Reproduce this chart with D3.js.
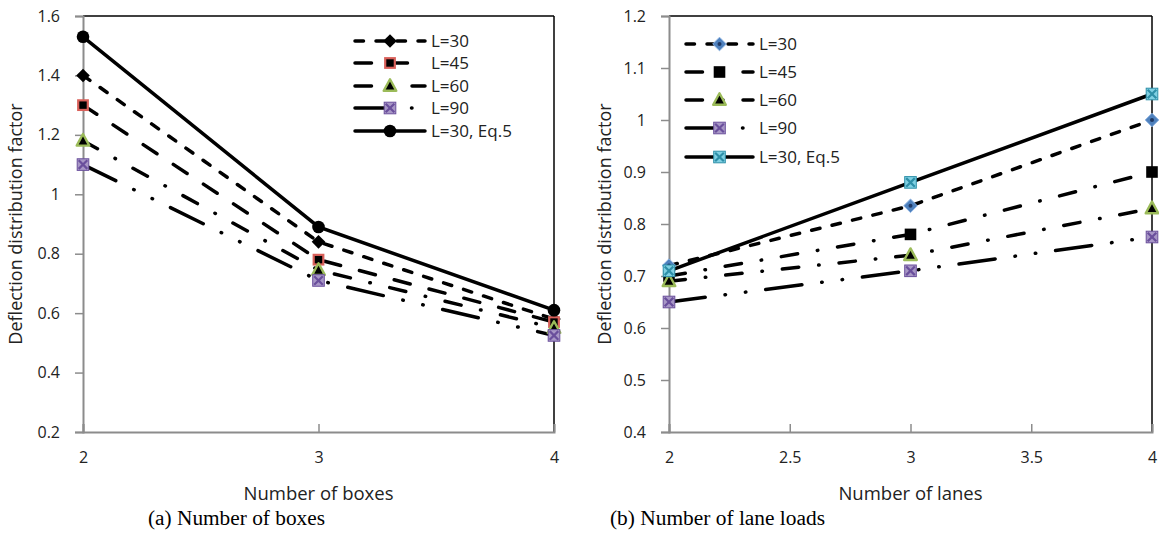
<!DOCTYPE html>
<html><head><meta charset="utf-8">
<script src="https://cdn.jsdelivr.net/npm/d3@7"></script>
<style>body{margin:0;background:#fff}svg{display:block}</style>
</head><body>
<svg id="c" width="1159" height="533"></svg>
<script>
// ---- data ----
const boxes = [2, 3, 4];
const boxTicks = [2, 3, 4];
const boxYTicks = [0.2, 0.4, 0.6, 0.8, 1.0, 1.2, 1.4, 1.6];
const boxL30 = [1.40, 0.84, 0.58];
const boxL45 = [1.30, 0.78, 0.57];
const boxL60 = [1.18, 0.745, 0.55];
const boxL90 = [1.10, 0.71, 0.525];
const boxEq5 = [1.53, 0.89, 0.61];

const lanes = [2, 3, 4];
const laneTicks = [2, 2.5, 3, 3.5, 4];
const laneYTicks = [0.4, 0.5, 0.6, 0.7, 0.8, 0.9, 1.0, 1.1, 1.2];
const laneL30 = [0.72, 0.835, 1.00];
const laneL45 = [0.70, 0.78, 0.90];
const laneL60 = [0.69, 0.74, 0.83];
const laneL90 = [0.65, 0.71, 0.775];
const laneEq5 = [0.71, 0.88, 1.05];

const seriesNames = ["L=30", "L=45", "L=60", "L=90", "L=30, Eq.5"];

const svg = d3.select("#c");
const LW = 3.5;
const FONT = "Open Sans, sans-serif";
const dashes = {
  dash: "8.5,12.5",
  long: "16.5,19.5",
  ldd: "16.5,20,0.5,20",
  lddd: "36.5,20,0.5,20,0.5,20",
  solid: null
};

function marker(g, type, x, y) {
  const s = 5.8;
  if (type === "diamondBlack") {
    g.append("path").attr("d", `M${x},${y-s-1}L${x+s+1},${y}L${x},${y+s+1}L${x-s-1},${y}Z`).attr("fill", "#000");
  } else if (type === "diamondBlue") {
    g.append("path").attr("d", `M${x},${y-s-1}L${x+s+1},${y}L${x},${y+s+1}L${x-s-1},${y}Z`).attr("fill", "#4f81bd").attr("stroke", "#8db3e2").attr("stroke-width", 1);
    g.append("circle").attr("cx", x).attr("cy", y).attr("r", 2).attr("fill", "#1f3864");
  } else if (type === "squareRed") {
    g.append("rect").attr("x", x-s+1).attr("y", y-s+1).attr("width", 2*s-2).attr("height", 2*s-2).attr("fill", "#000").attr("stroke", "#d9605a").attr("stroke-width", 2.2);
  } else if (type === "squareBlack") {
    g.append("rect").attr("x", x-s).attr("y", y-s).attr("width", 2*s).attr("height", 2*s).attr("fill", "#000");
  } else if (type === "triGreen") {
    g.append("path").attr("d", `M${x},${y-s-1}L${x+s+0.5},${y+s-1}L${x-s-0.5},${y+s-1}Z`).attr("fill", "#000").attr("stroke", "#9bbb59").attr("stroke-width", 2.4).attr("stroke-linejoin", "round");
  } else if (type === "xPurple" || type === "xCyan") {
    const bg = type === "xPurple" ? "#a897c6" : "#7fd0e3";
    const fg = type === "xPurple" ? "#6a4f9c" : "#2e8fa8";
    g.append("rect").attr("x", x-s).attr("y", y-s).attr("width", 2*s).attr("height", 2*s).attr("fill", bg).attr("stroke", fg).attr("stroke-width", 1);
    g.append("path").attr("d", `M${x-s+1.5},${y-s+1.5}L${x+s-1.5},${y+s-1.5}M${x+s-1.5},${y-s+1.5}L${x-s+1.5},${y+s-1.5}`).attr("stroke", fg).attr("stroke-width", 2.2);
  } else if (type === "circleBlack") {
    g.append("circle").attr("cx", x).attr("cy", y).attr("r", 6.3).attr("fill", "#000");
  }
}

function chart(opt) {
  const g = svg.append("g");
  const x = d3.scaleLinear().domain([2, 4]).range([opt.x0, opt.x1]);
  const y = d3.scaleLinear().domain(opt.ydom).range([432, 16]);
  g.append("line").attr("x1", opt.x0).attr("x2", opt.x1).attr("y1", 16).attr("y2", 16).attr("stroke", "#000").attr("stroke-width", 1.5);
  g.append("line").attr("x1", opt.x1).attr("x2", opt.x1).attr("y1", 16).attr("y2", 432).attr("stroke", "#000").attr("stroke-width", 1.5);
  const ya = g.append("g").attr("transform", `translate(${opt.x0},0)`)
    .call(d3.axisLeft(y).tickValues(opt.yticks).tickSize(8).tickPadding(15).tickFormat(d => String(+d.toFixed(1))));
  ya.select(".domain").attr("stroke", "#8c8c8c").attr("stroke-width", 2);
  ya.selectAll(".tick line").attr("stroke", "#8c8c8c").attr("stroke-width", 1.5);
  ya.selectAll("text").attr("font-family", FONT).attr("font-size", 16).attr("fill", "#222");
  const xa = g.append("g").attr("transform", `translate(0,432)`)
    .call(d3.axisBottom(x).tickValues(opt.xticks).tickSize(-8).tickPadding(20).tickFormat(d => String(d)));
  xa.select(".domain").attr("stroke", "#8c8c8c").attr("stroke-width", 2);
  xa.selectAll(".tick line").attr("stroke", "#8c8c8c").attr("stroke-width", 1.5);
  xa.selectAll("text").attr("font-family", FONT).attr("font-size", 16).attr("fill", "#222");
  g.append("text").attr("x", (opt.x0 + opt.x1) / 2).attr("y", 500).attr("text-anchor", "middle")
    .attr("font-family", FONT).attr("font-size", 18.5).attr("fill", "#222").text(opt.xtitle);
  g.append("text").attr("transform", `translate(${opt.ytx},224) rotate(-90)`).attr("text-anchor", "middle")
    .attr("font-family", FONT).attr("font-size", 18).attr("fill", "#222").text("Deflection distribution factor");
  g.append("text").attr("x", opt.capx).attr("y", 525)
    .attr("font-family", "Liberation Serif, serif").attr("font-size", 20).attr("fill", "#000")
    .attr("textLength", opt.capw).attr("lengthAdjust", "spacingAndGlyphs").text(opt.caption);

  const line = d3.line().x((d, i) => x(opt.xs[i])).y(d => y(d));
  opt.series.forEach(s => {
    g.append("path").attr("d", line(s.vals)).attr("fill", "none").attr("stroke", "#000")
      .attr("stroke-width", LW).attr("stroke-linecap", "round").attr("stroke-dasharray", dashes[s.dash]);
  });
  opt.series.forEach(s => {
    s.vals.forEach((v, i) => marker(g, s.marker, x(opt.xs[i]), y(v)));
  });
  opt.series.forEach((s, i) => {
    const ly = opt.legY[i];
    g.append("line").attr("x1", opt.legX).attr("x2", opt.legX + opt.legW).attr("y1", ly).attr("y2", ly)
      .attr("stroke", "#000").attr("stroke-width", LW).attr("stroke-linecap", "round").attr("stroke-dasharray", dashes[s.dash]);
    marker(g, s.marker, opt.legX + opt.legW / 2, ly);
    g.append("text").attr("x", opt.legX + opt.legW + 6).attr("y", ly + 6)
      .attr("font-family", FONT).attr("font-size", 17).attr("fill", "#222").text(seriesNames[i]);
  });
}

chart({
  x0: 83, x1: 554, ydom: [0.2, 1.6], yticks: boxYTicks, xticks: boxTicks, xs: boxes,
  xtitle: "Number of boxes", ytx: 22, caption: "(a) Number of boxes", capx: 148, capw: 177,
  legX: 355, legW: 70, legY: [41, 63, 86, 108, 131],
  series: [
    { vals: boxL30, dash: "dash", marker: "diamondBlack" },
    { vals: boxL45, dash: "long", marker: "squareRed" },
    { vals: boxL60, dash: "ldd", marker: "triGreen" },
    { vals: boxL90, dash: "lddd", marker: "xPurple" },
    { vals: boxEq5, dash: "solid", marker: "circleBlack" }
  ]
});
chart({
  x0: 669, x1: 1152, ydom: [0.4, 1.2], yticks: laneYTicks, xticks: laneTicks, xs: lanes,
  xtitle: "Number of lanes", ytx: 611, caption: "(b) Number of lane loads", capx: 610, capw: 215,
  legX: 686, legW: 67, legY: [44, 72, 100, 128, 157],
  series: [
    { vals: laneL30, dash: "dash", marker: "diamondBlue" },
    { vals: laneL45, dash: "ldd", marker: "squareBlack" },
    { vals: laneL60, dash: "ldd", marker: "triGreen" },
    { vals: laneL90, dash: "lddd", marker: "xPurple" },
    { vals: laneEq5, dash: "solid", marker: "xCyan" }
  ]
});
</script>
</body></html>
